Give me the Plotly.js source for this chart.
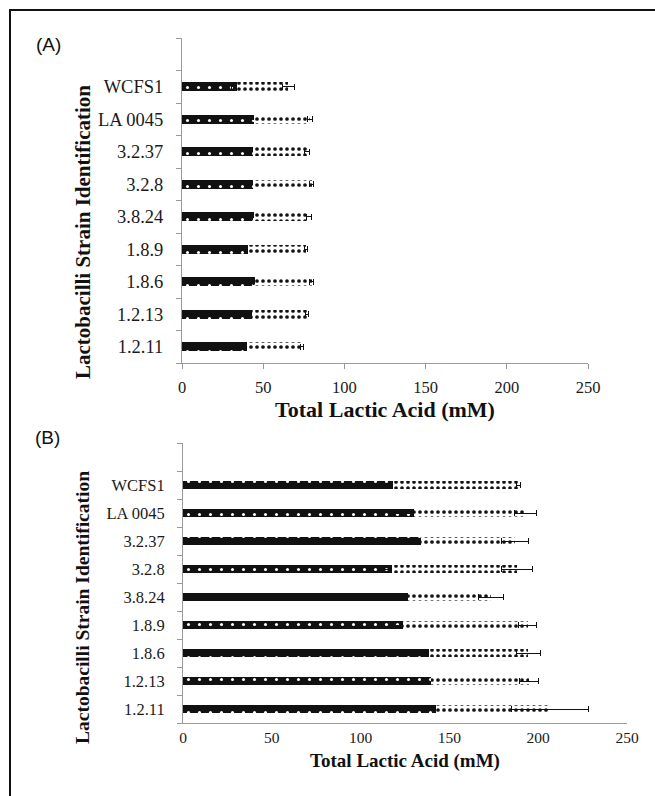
<!DOCTYPE html>
<html><head><meta charset="utf-8">
<script src="https://cdn.plot.ly/plotly-3.0.1.min.js"></script>
<style>
html,body{margin:0;padding:0;background:#fff;overflow:hidden;}
#chart{width:655px;height:796px;position:absolute;left:0;top:0;}
#frame{position:absolute;left:9px;top:9px;width:720px;height:820px;border-left:2px solid #111;border-top:2px solid #111;pointer-events:none;}
</style>
</head><body>
<div id="chart"></div><div id="frame"></div>
<script>
// Strains, bottom to top
const strains = ['1.2.11','1.2.13','1.8.6','1.8.9','3.8.24','3.2.8','3.2.37','LA 0045','WCFS1'];

// Panel (A): first (dark) segment and stacked total, mM
const aFirst    = [40.2, 42.9, 45.0, 40.8, 44.3, 43.9, 43.5, 44.3, 33.7];
const aFirstErr = [1.0, 1.0, 1.0, 2.0, 1.0, 1.6, 1.0, 4.0, 3.0];
const aTotal    = [73.7, 76.8, 79.8, 76.4, 78.3, 79.8, 76.8, 78.8, 65.5];
const aTotalErr = [1.0, 1.0, 1.0, 1.0, 1.5, 1.0, 1.5, 1.5, 3.5];

// Panel (B)
const bFirst    = [142.5, 139.5, 138.7, 124.0, 126.5, 117.9, 134.0, 130.3, 118.2];
const bFirstErr = [1.0, 5.0, 7.0, 4.7, 3.0, 5.0, 14.0, 12.5, 12.0];
const bTotal    = [206.8, 194.8, 194.5, 194.0, 173.4, 188.2, 187.0, 192.8, 188.9];
const bTotalErr = [21.6, 5.4, 6.6, 5.2, 7.0, 8.7, 7.5, 6.4, 1.0];

const xTicks = [0, 50, 100, 150, 200, 250];
const panelLabels = ['(A)', '(B)'];
const xTitle = 'Total Lactic Acid (mM)';
const yTitle = 'Lactobacilli Strain Identification';

const pos = strains.map((s, i) => i);
const second = (tot, first) => tot.map((t, i) => t - first[i]);

const darkMarker = {color:'#111', pattern:{shape:'.', fgcolor:'#fff', bgcolor:'#111', size:11, solidity:0.06, fillmode:'replace'}, line:{width:0}};
const lightMarker = {color:'#fff', pattern:{shape:'.', fgcolor:'#111', bgcolor:'#fff', size:6, solidity:0.3, fillmode:'replace'}, line:{width:0}};
const eb = arr => ({type:'data', array:arr, color:'#111', thickness:1, width:3});

const traces = [
  {type:'bar', orientation:'h', x:aFirst, y:pos, xaxis:'x', yaxis:'y', marker:darkMarker, error_x:eb(aFirstErr), showlegend:false, hoverinfo:'x'},
  {type:'bar', orientation:'h', x:second(aTotal, aFirst), y:pos, xaxis:'x', yaxis:'y', marker:lightMarker, error_x:eb(aTotalErr), showlegend:false, hoverinfo:'x'},
  {type:'bar', orientation:'h', x:bFirst, y:pos, xaxis:'x2', yaxis:'y2', marker:darkMarker, error_x:eb(bFirstErr), showlegend:false, hoverinfo:'x'},
  {type:'bar', orientation:'h', x:second(bTotal, bFirst), y:pos, xaxis:'x2', yaxis:'y2', marker:lightMarker, error_x:eb(bTotalErr), showlegend:false, hoverinfo:'x'}
];

const W = 655, H = 796;
const serif = 'Liberation Serif, Times New Roman, serif';
function xAx(l, r, tickFs, titleFs, ticks, standoff, anchor, lblOff){
  return {domain:[l/W, r/W], range:[0, 250], anchor:anchor, tickmode:'array', tickvals:xTicks,
    showline:true, linecolor:'#9a9a9a', linewidth:1, ticks:ticks, ticklen:5, tickcolor:'#9a9a9a',
    ticklabelstandoff:lblOff, showgrid:false, zeroline:false, fixedrange:true,
    tickfont:{family:serif, size:tickFs, color:'#1a1a1a'},
    title:{text:xTitle, standoff:standoff, font:{family:serif, size:titleFs, color:'#111', weight:'bold'}}};
}
function yAx(top, bot, tickFs, anchor){
  return {domain:[1 - bot/H, 1 - top/H], range:[-0.5, 9.5], anchor:anchor, tickmode:'array', tickvals:pos, ticktext:strains,
    ticks:'', ticklabelstandoff:14, showline:true, linecolor:'#9a9a9a', linewidth:1, showgrid:false, zeroline:false, fixedrange:true,
    minor:{tick0:-0.5, dtick:1, ticks:'outside', ticklen:5, tickcolor:'#9a9a9a', showgrid:false},
    tickfont:{family:serif, size:tickFs, color:'#1a1a1a'}};
}
const sans = 'Liberation Sans, Arial, sans-serif';

const layout = {
  width:W, height:H, margin:{l:0, r:0, t:0, b:0}, paper_bgcolor:'rgba(0,0,0,0)', plot_bgcolor:'rgba(0,0,0,0)',
  barmode:'stack', bargap:0.715, showlegend:false,
  xaxis: xAx(182, 588, 16.5, 22, 'outside', 4, 'y', 4),
  yaxis: yAx(38, 363, 18.5, 'x'),
  xaxis2: xAx(183, 627, 15.5, 19, '', 9, 'y2', 0),
  yaxis2: yAx(443, 723, 16.5, 'x2'),
  annotations:[
    {text:panelLabels[0], xref:'paper', yref:'paper', x:34/W, y:1-45/H, xanchor:'left', yanchor:'middle', showarrow:false, font:{family:sans, size:19, color:'#111'}},
    {text:panelLabels[1], xref:'paper', yref:'paper', x:33/W, y:1-437/H, xanchor:'left', yanchor:'middle', showarrow:false, font:{family:sans, size:19, color:'#111'}},
    {text:yTitle, textangle:-90, xref:'paper', yref:'paper', x:83/W, y:1-232/H, xanchor:'center', yanchor:'middle', showarrow:false, font:{family:serif, size:21, color:'#111', weight:'bold'}},
    {text:yTitle, textangle:-90, xref:'paper', yref:'paper', x:82/W, y:1-608/H, xanchor:'center', yanchor:'middle', showarrow:false, font:{family:serif, size:19.5, color:'#111', weight:'bold'}}
  ]
};
Plotly.newPlot('chart', traces, layout, {displayModeBar:false, staticPlot:true});
</script>
</body></html>
